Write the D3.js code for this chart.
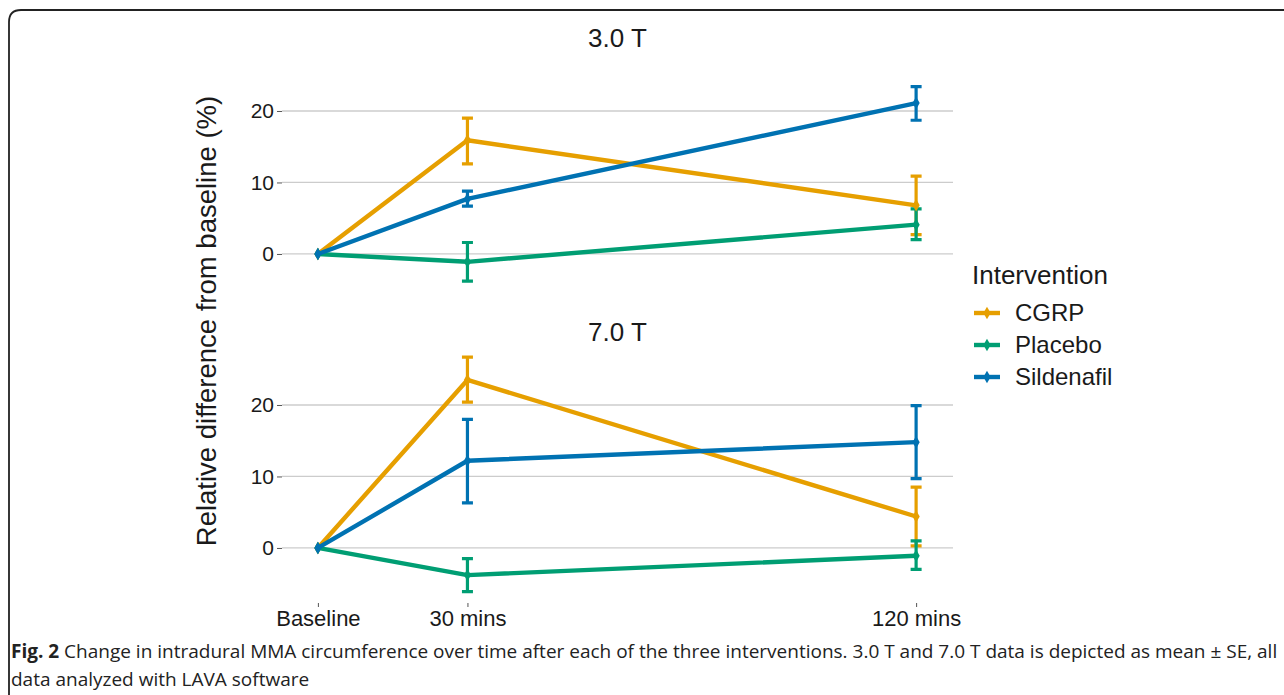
<!DOCTYPE html>
<html>
<head>
<meta charset="utf-8">
<script src="https://cdn.jsdelivr.net/npm/d3@7"></script>
<style>
  body { margin: 0; background: #fff; }
  svg { display: block; }
</style>
</head>
<body>
<div class="chart"></div>
<script>
const width = 1284;
const height = 695;
const font = "'Liberation Sans', Arial, sans-serif";

// data
const times = [0, 30, 120];
const timeLabels = ["Baseline", "30 mins", "120 mins"];
const groups = ["CGRP", "Placebo", "Sildenafil"];
const colors = ["#E69F00", "#009E73", "#0072B2"];
const panels = ["3.0 T", "7.0 T"];

// mean / lower / upper for each panel and group
const mean3T = [[0, 15.9, 6.8], [0, -1.1, 4.1], [0, 7.7, 21.1]];
const lo3T   = [[0, 12.6, 2.7], [0, -3.8, 2.0], [0, 6.7, 18.7]];
const hi3T   = [[0, 19.0, 10.9], [0, 1.6, 6.3], [0, 8.8, 23.4]];
const mean7T = [[0, 23.5, 4.4], [0, -3.8, -1.1], [0, 12.2, 14.8]];
const lo7T   = [[0, 20.4, 0.3], [0, -6.1, -3.0], [0, 6.3, 9.7]];
const hi7T   = [[0, 26.7, 8.5], [0, -1.5, 1.0], [0, 18.0, 19.9]];
const yTicks = [0, 10, 20];

const panelData = [
  {name: panels[0], mean: mean3T, lo: lo3T, hi: hi3T},
  {name: panels[1], mean: mean7T, lo: lo7T, hi: hi7T}
];

const svg = d3.select('.chart')
    .append('svg')
    .attr('width', width)
    .attr('height', height);

// frame around the figure
svg.append('path')
    .attr('d', 'M9,700 L9,22 Q9,10 21,10 L1290,10')
    .attr('fill', 'none')
    .attr('stroke', '#222')
    .attr('stroke-width', 1.8);

const left = 282, right = 953;
const panelH = 257;
const panelTops = [52, 346];

const x = d3.scaleLinear().domain([-7.2, 127.4]).range([left, right]);

panelData.forEach(function(p, pi) {
    const top = panelTops[pi];
    const y = d3.scaleLinear().domain([-7.7, 28.25]).range([top + panelH, top]);
    const g = svg.append('g');

    // strip title
    g.append('text')
        .attr('x', (left + right) / 2)
        .attr('y', top - 5)
        .attr('text-anchor', 'middle')
        .attr('font-family', font)
        .attr('font-size', 26)
        .attr('fill', '#1a1a1a')
        .text(p.name);

    // grid
    g.selectAll('.grid')
        .data(yTicks)
        .enter()
        .append('line')
        .attr('x1', left)
        .attr('x2', right)
        .attr('y1', d => y(d))
        .attr('y2', d => y(d))
        .attr('stroke', '#cccccc')
        .attr('stroke-width', 1.3);

    // y axis
    const yAxis = d3.axisLeft(y).tickValues(yTicks).tickSize(5).tickPadding(3);
    const ya = g.append('g')
        .attr('transform', 'translate(' + left + ',0)')
        .call(yAxis);
    ya.select('.domain').remove();
    ya.selectAll('.tick line').attr('stroke', '#555').attr('stroke-width', 1);
    ya.selectAll('.tick text')
        .attr('font-family', font)
        .attr('font-size', 21)
        .attr('fill', '#1a1a1a');

    // error bars
    groups.forEach(function(grp, gi) {
        const eb = g.append('g');
        times.forEach(function(t, ti) {
            if (ti === 0) return;
            const cx = x(t);
            const y1 = y(p.lo[gi][ti]);
            const y2 = y(p.hi[gi][ti]);
            eb.append('path')
                .attr('d', 'M' + (cx - 5.5) + ',' + y1 + 'H' + (cx + 5.5)
                    + 'M' + cx + ',' + y1 + 'V' + y2
                    + 'M' + (cx - 5.5) + ',' + y2 + 'H' + (cx + 5.5))
                .attr('fill', 'none')
                .attr('stroke', colors[gi])
                .attr('stroke-width', 3.2);
        });
    });

    // lines and points
    const line = d3.line().x(d => x(d[0])).y(d => y(d[1]));
    groups.forEach(function(grp, gi) {
        const pts = times.map((t, ti) => [t, p.mean[gi][ti]]);
        g.append('path')
            .datum(pts)
            .attr('d', line)
            .attr('fill', 'none')
            .attr('stroke', colors[gi])
            .attr('stroke-width', 4.4)
            .attr('stroke-linejoin', 'round');
        g.selectAll('.pt' + gi)
            .data(pts)
            .enter()
            .append('path')
            .attr('d', d3.symbol(d3.symbolDiamond, 45))
            .attr('transform', d => 'translate(' + x(d[0]) + ',' + y(d[1]) + ')')
            .attr('fill', colors[gi]);
    });

    // x axis only on bottom panel
    if (pi === 1) {
        const xAxis = d3.axisBottom(x).tickValues(times).tickFormat((d, i) => timeLabels[i]).tickSize(4).tickPadding(3);
        const xa = g.append('g')
            .attr('transform', 'translate(0,' + (top + panelH) + ')')
            .call(xAxis);
        xa.select('.domain').remove();
        xa.selectAll('.tick line').attr('stroke', '#555');
        xa.selectAll('.tick text')
            .attr('font-family', font)
            .attr('font-size', 22)
            .attr('fill', '#1a1a1a');
    }
});

// y axis title
svg.append('text')
    .attr('transform', 'translate(216,321) rotate(-90)')
    .attr('text-anchor', 'middle')
    .attr('font-family', font)
    .attr('font-size', 27.5)
    .attr('fill', '#1a1a1a')
    .text('Relative difference from baseline (%)');

// legend
const legend = svg.append('g').attr('transform', 'translate(972,0)');
legend.append('text')
    .attr('x', 0)
    .attr('y', 284)
    .attr('font-family', font)
    .attr('font-size', 26)
    .attr('fill', '#1a1a1a')
    .text('Intervention');
groups.forEach(function(grp, gi) {
    const ly = 313 + gi * 32;
    legend.append('line')
        .attr('x1', 2).attr('x2', 28)
        .attr('y1', ly).attr('y2', ly)
        .attr('stroke', colors[gi])
        .attr('stroke-width', 4.4);
    legend.append('path')
        .attr('d', d3.symbol(d3.symbolDiamond, 45))
        .attr('transform', 'translate(15,' + ly + ')')
        .attr('fill', colors[gi]);
    legend.append('text')
        .attr('x', 43)
        .attr('y', ly + 8)
        .attr('font-family', font)
        .attr('font-size', 24)
        .attr('fill', '#1a1a1a')
        .text(grp);
});

// caption
const cap = svg.append('g')
    .attr('font-family', "'Open Sans', sans-serif")
    .attr('font-size', 19)
    .attr('fill', '#222');
const c1 = cap.append('text').attr('x', 11).attr('y', 658);
c1.append('tspan').attr('font-weight', 'bold').text('Fig. 2');
c1.append('tspan').text(' Change in intradural MMA circumference over time after each of the three interventions. 3.0 T and 7.0 T data is depicted as mean \u00b1 SE, all');
cap.append('text').attr('x', 11).attr('y', 686)
    .text('data analyzed with LAVA software');
</script>
</body>
</html>
